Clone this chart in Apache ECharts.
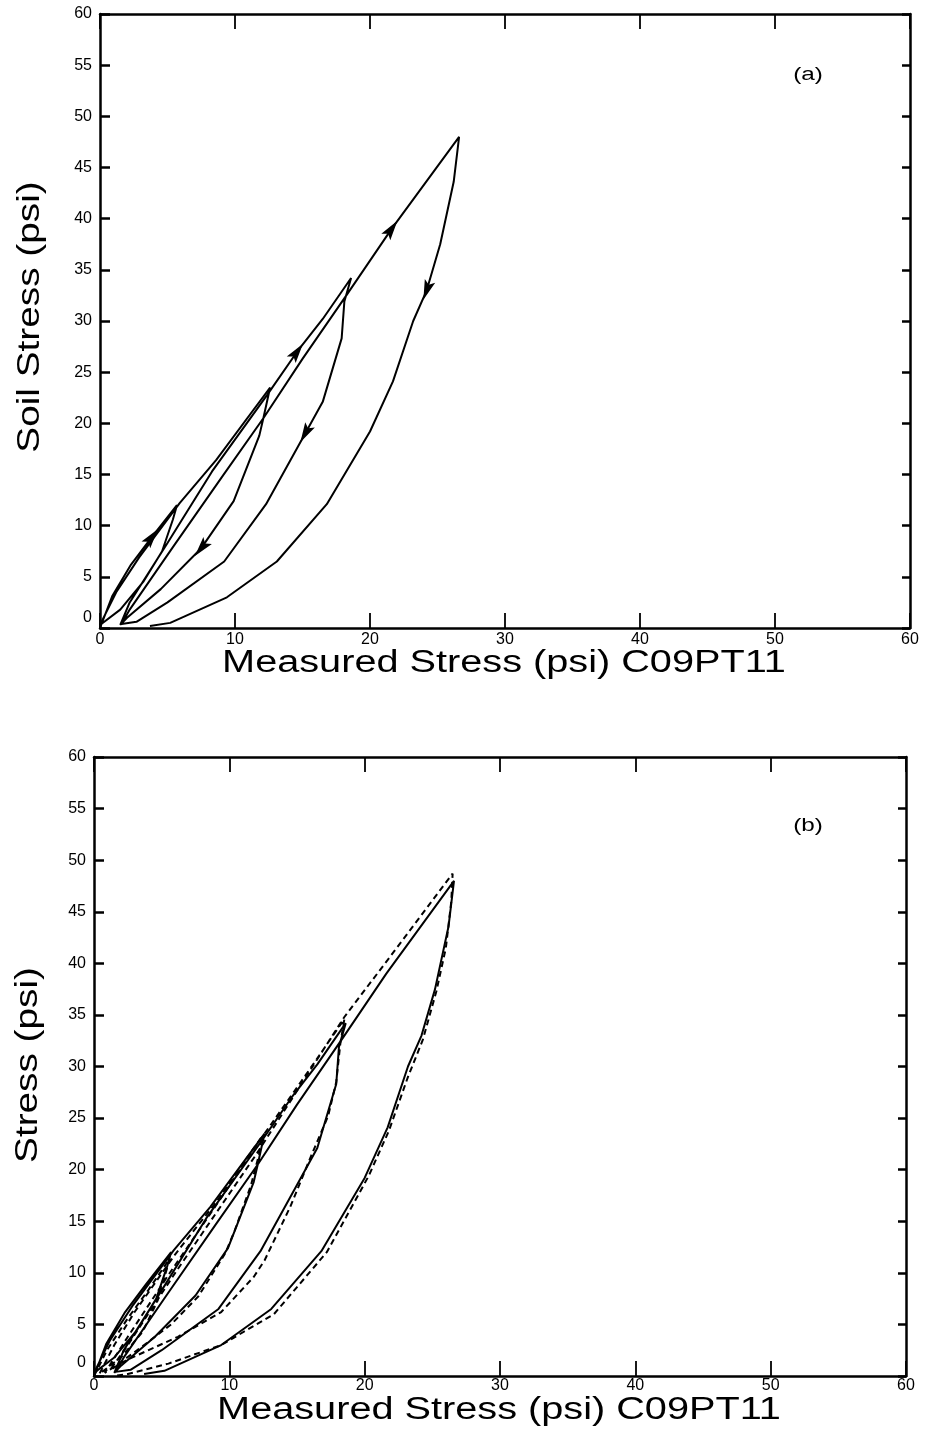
<!DOCTYPE html>
<html><head><meta charset="utf-8">
<script src="https://cdn.jsdelivr.net/npm/echarts@6/dist/echarts.min.js"></script>
<style>html,body{margin:0;padding:0;background:#fff}#c{width:926px;height:1429px}</style>
</head><body><div id="c"></div>
<script>
// ---- data ----
const xTicks = [0, 10, 20, 30, 40, 50, 60];
const yTicks = [0, 5, 10, 15, 20, 25, 30, 35, 40, 45, 50, 55, 60];
const xTitle = 'Measured Stress (psi) C09PT11';
const yTitleA = 'Soil Stress (psi)';
const yTitleB = 'Stress (psi)';
const panelLabels = ['(a)', '(b)'];

// measured loading/unloading history (x = measured stress, y = soil stress), in order
const measuredPath = [
  [0,0],[0.9,3.1],[2.3,6.2],[3.85,8.9],[5.7,12.0],
  [5.4,10.6],[4.6,7.5],[3.2,4.5],[1.5,1.8],[0,0.3],
  [1.2,3.5],[2.9,6.9],[5.9,12.2],[8.6,16.4],[12.6,23.5],
  [12.1,20.5],[11.8,18.8],[9.9,12.4],[7.5,7.8],[4.5,3.8],[2.0,1.0],[1.5,0.3],
  [2.2,2.5],[5.0,8.3],[8.3,15.3],[12.4,22.8],[14.6,27.0],[16.5,30.2],[18.6,34.2],
  [18.1,31.9],[17.9,28.3],[16.5,22.1],[15.2,19.0],[12.3,12.1],[9.2,6.5],[5.0,2.5],[2.7,0.6],[1.6,0.4],
  [2.2,1.8],[5.4,7.9],[9.0,14.7],[12.1,20.5],[15.0,26.3],[18.3,32.6],[21.6,39.0],[26.6,48.0],
  [26.2,43.6],[25.2,37.5],[24.2,33.0],[23.2,30.0],[21.7,24.1],[20.0,19.2],[16.8,12.1],[13.1,6.5],[9.4,3.0],[5.2,0.5],[3.7,0.2]
];
// positions (indices in measuredPath) carrying direction arrows in panel (a)
const arrowIdx = [3, 18, 26, 32, 44, 48];

// model prediction (dashed) in panel (b)
const modelPath = [
  [0,0],[1.0,2.6],[2.5,5.6],[4.0,8.3],[5.6,11.4],
  [5.3,10.0],[4.7,7.3],[3.6,4.3],[2.0,1.8],[0.4,0.2],
  [1.5,3.0],[3.0,6.2],[6.0,11.8],[9.0,16.8],[12.4,23.2],
  [12.2,21.5],[11.6,18.5],[10.4,14.1],[9.7,11.9],[7.7,7.7],[5.7,5.0],[3.3,2.6],[1.5,0.9],[0.8,0.3],
  [2.5,3.8],[5.5,9.8],[9.0,16.5],[12.5,23.3],[15.5,28.9],[18.5,34.6],
  [18.2,32.2],[17.9,28.5],[17.3,25.2],[16.0,21.2],[14.5,16.4],[12.6,11.2],[11.8,9.6],[9.4,6.2],[6.2,3.8],[2.5,1.6],[1.2,0.6],
  [2.5,3.0],[6.0,10.0],[12.0,21.5],[18.5,34.8],[22.2,41.2],[26.5,48.7],
  [26.4,46.0],[26.0,41.5],[25.3,37.3],[24.3,32.6],[23.2,29.0],[21.8,23.8],[20.3,19.4],[17.2,12.0],[13.3,6.0],[9.4,3.0],[5.5,1.2],[2.5,0.2],[1.5,0]
];

// ---- chart ----
const FONT = '"Liberation Sans", Arial, Helvetica, sans-serif';
const chart = echarts.init(document.getElementById('c'), null, {renderer: 'canvas'});

function xAxes(grid, margin) {
  const base = {
    gridIndex: grid, type: 'value', min: xTicks[0], max: xTicks[xTicks.length - 1],
    interval: xTicks[1] - xTicks[0], splitLine: {show: false},
    axisLine: {show: true, onZero: false, lineStyle: {color: '#000', width: 2.5}}
  };
  return [
    Object.assign({}, base, {
      position: 'bottom',
      axisTick: {show: true, inside: true, length: 15, lineStyle: {color: '#000', width: 1.8}},
      axisLabel: {show: true, color: '#000', fontSize: 16, fontFamily: FONT, margin: margin}
    }),
    Object.assign({}, base, {
      position: 'top',
      axisTick: {show: true, inside: true, length: 15, lineStyle: {color: '#000', width: 1.8}},
      axisLabel: {show: false}
    })
  ];
}
function yAxes(grid, zeroLift) {
  const base = {
    gridIndex: grid, type: 'value', min: yTicks[0], max: yTicks[yTicks.length - 1],
    interval: yTicks[1] - yTicks[0], splitLine: {show: false},
    axisLine: {show: true, onZero: false, lineStyle: {color: '#000', width: 2.5}}
  };
  return [
    Object.assign({}, base, {
      position: 'left',
      axisTick: {show: true, inside: true, length: 10, lineStyle: {color: '#000', width: 2.5}},
      axisLabel: {
        show: true, color: '#000', fontSize: 16, fontFamily: FONT, margin: 8,
        formatter: v => v === 0 ? '{z|0}' : String(v),
        rich: {z: {fontSize: 16, fontFamily: FONT, color: '#000', padding: [0, 0, zeroLift, 0]}}
      }
    }),
    Object.assign({}, base, {
      position: 'right',
      axisTick: {show: true, inside: true, length: 8, lineStyle: {color: '#000', width: 2.5}},
      axisLabel: {show: false}
    })
  ];
}

const lineStyleSolid = {color: '#000', width: 2};

const option = {
  backgroundColor: '#fff',
  animation: false,
  grid: [
    {left: 100, top: 14, width: 810, height: 614},
    {left: 94, top: 757, width: 812, height: 619}
  ],
  xAxis: xAxes(0, 4).concat(xAxes(1, 2)),
  yAxis: yAxes(0, 20).concat(yAxes(1, 26)),
  series: [
    {type: 'line', xAxisIndex: 0, yAxisIndex: 0, data: measuredPath, showSymbol: false,
     lineStyle: lineStyleSolid, z: 3},
    {type: 'line', xAxisIndex: 2, yAxisIndex: 2, data: measuredPath, showSymbol: false,
     lineStyle: lineStyleSolid, z: 3},
    {type: 'line', xAxisIndex: 2, yAxisIndex: 2, data: modelPath, showSymbol: false,
     lineStyle: {color: '#000', width: 2, type: [6, 4]}, z: 3}
  ],
  graphic: [
    {type: 'text', x: 504, y: 663, scaleX: 1.28, style: {text: xTitle, fontSize: 31, fontFamily: FONT, fill: '#000', align: 'center', verticalAlign: 'middle'}},
    {type: 'text', x: 499, y: 1410, scaleX: 1.28, style: {text: xTitle, fontSize: 31, fontFamily: FONT, fill: '#000', align: 'center', verticalAlign: 'middle'}},
    {type: 'text', x: 30, y: 317, rotation: Math.PI / 2, scaleX: 1.25, style: {text: yTitleA, fontSize: 31, fontFamily: FONT, fill: '#000', align: 'center', verticalAlign: 'middle'}},
    {type: 'text', x: 28, y: 1065, rotation: Math.PI / 2, scaleX: 1.25, style: {text: yTitleB, fontSize: 31, fontFamily: FONT, fill: '#000', align: 'center', verticalAlign: 'middle'}},
    {type: 'text', x: 808, y: 75, scaleX: 1.35, style: {text: panelLabels[0], fontSize: 18, fontFamily: FONT, fill: '#000', align: 'center', verticalAlign: 'middle'}},
    {type: 'text', x: 808, y: 826, scaleX: 1.35, style: {text: panelLabels[1], fontSize: 18, fontFamily: FONT, fill: '#000', align: 'center', verticalAlign: 'middle'}}
  ]
};
chart.setOption(option);

// arrows: direction taken from neighbouring points, in pixel space
const arrowData = arrowIdx.map(i => {
  const p0 = chart.convertToPixel({xAxisIndex: 0, yAxisIndex: 0}, measuredPath[i - 1]);
  const p1 = chart.convertToPixel({xAxisIndex: 0, yAxisIndex: 0}, measuredPath[i + 1]);
  const ang = Math.atan2(-(p1[1] - p0[1]), p1[0] - p0[0]) * 180 / Math.PI;
  return {value: measuredPath[i], symbolRotate: ang - 90};
});
chart.setOption({series: [
  {}, {}, {},
  {type: 'scatter', xAxisIndex: 0, yAxisIndex: 0, data: arrowData,
   symbol: 'path://M0,0 L6,20 L0,16 L-6,20 Z', symbolSize: [11, 20],
   itemStyle: {color: '#000', opacity: 1}, z: 4}
]});
</script>
</body></html>
